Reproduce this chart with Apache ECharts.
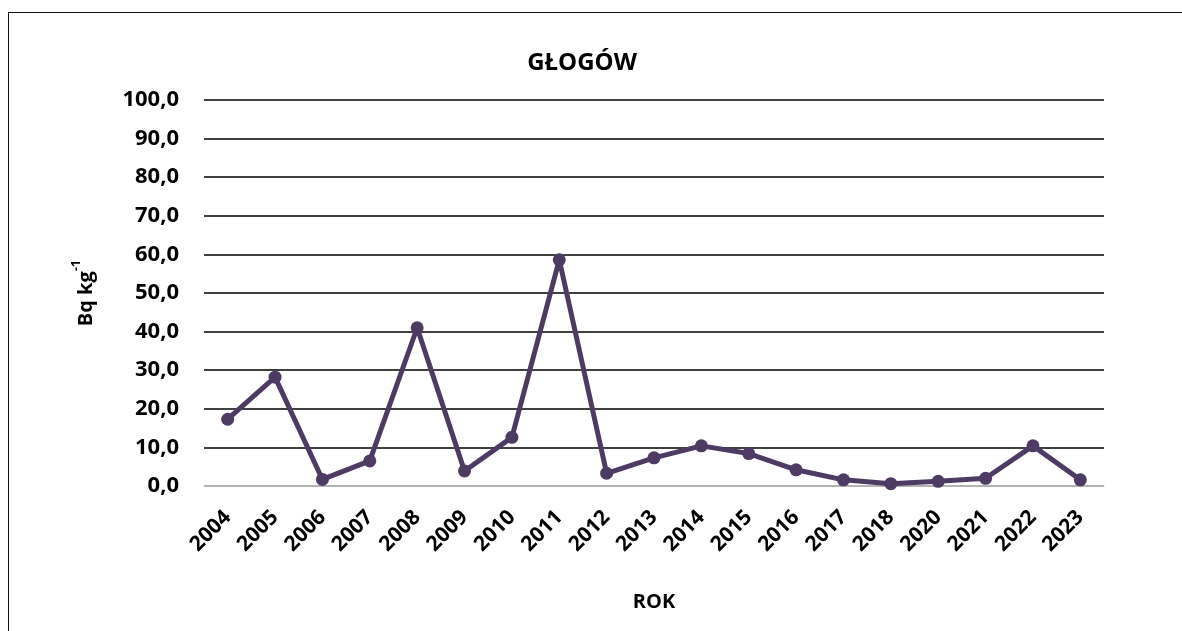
<!DOCTYPE html>
<html>
<head>
<meta charset="utf-8">
<script src="https://cdn.jsdelivr.net/npm/echarts@6/dist/echarts.min.js"></script>
<style>
  html, body { margin: 0; padding: 0; background: #fff; }
  #wrap { position: relative; width: 1182px; height: 631px; overflow: hidden; }
  #frame { position: absolute; left: 8px; top: 12px; width: 1300px; height: 800px;
           border: 1.5px solid #111; box-sizing: border-box; pointer-events: none; }
  #chart { position: absolute; left: 0; top: 0; width: 1182px; height: 631px; }
</style>
</head>
<body>
<div id="wrap">
  <div id="chart"></div>
  <div id="frame"></div>
</div>
<script>
// Years of measurement (no sample in 2019)
const years = ['2004', '2005', '2006', '2007', '2008', '2009', '2010', '2011', '2012', '2013',
               '2014', '2015', '2016', '2017', '2018', '2020', '2021', '2022', '2023'];
// Activity concentration, Bq kg-1
const activity = [17.3, 28.2, 1.7, 6.5, 41.0, 3.9, 12.6, 58.6, 3.3, 7.3,
                  10.4, 8.4, 4.2, 1.6, 0.6, 1.2, 2.0, 10.4, 1.6];
// Value axis range and step
const yMin = 0, yMax = 100, yStep = 10;

const FONT = '"Open Sans", "DejaVu Sans", sans-serif';
const chart = echarts.init(document.getElementById('chart'));

chart.setOption({
  animation: false,
  backgroundColor: '#ffffff',
  title: {
    text: 'GŁOGÓW',
    left: 577,
    top: 46,
    textAlign: 'center',
    textStyle: { fontFamily: FONT, fontWeight: 'bold', fontSize: 24, color: '#000' }
  },
  grid: { left: 204, right: 78, top: 100, bottom: 145 },
  xAxis: {
    type: 'category',
    data: years,
    boundaryGap: true,
    name: 'ROK',
    nameLocation: 'middle',
    nameGap: 106,
    nameTextStyle: { fontFamily: FONT, fontWeight: 'bold', fontSize: 20, color: '#000' },
    axisLine: { lineStyle: { color: '#d9d9d9', width: 1.5 } },
    axisTick: { show: false },
    axisLabel: {
      interval: 0,
      rotate: 45,
      margin: 28,
      fontFamily: FONT, fontWeight: 'bold', fontSize: 21, color: '#000'
    }
  },
  yAxis: {
    type: 'value',
    min: yMin,
    max: yMax,
    interval: yStep,
    name: '{b|Bq kg}{s|-1}',
    nameLocation: 'middle',
    nameGap: 108,
    nameRotate: 90,
    nameTextStyle: {
      rich: {
        b: { fontFamily: FONT, fontWeight: 'bold', fontSize: 20, color: '#000', lineHeight: 26, verticalAlign: 'bottom' },
        s: { fontFamily: FONT, fontWeight: 'bold', fontSize: 13, color: '#000', lineHeight: 26, verticalAlign: 'top' }
      }
    },
    axisLine: { show: false },
    axisTick: { show: false },
    axisLabel: {
      margin: 25,
      fontFamily: FONT, fontWeight: 'bold', fontSize: 22, color: '#000',
      formatter: v => v.toFixed(1).replace('.', ',')
    },
    splitLine: { lineStyle: { color: '#000', width: 1.5 } }
  },
  series: [{
    type: 'line',
    data: activity,
    symbol: 'circle',
    symbolSize: 13,
    lineStyle: { color: '#4e3b64', width: 5 },
    itemStyle: { color: '#4e3b64' }
  }]
});
</script>
</body>
</html>
